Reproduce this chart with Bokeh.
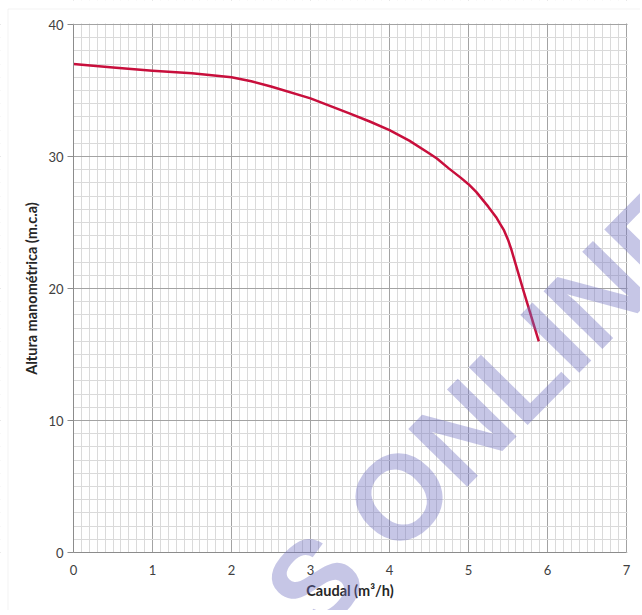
from bokeh.plotting import figure
from bokeh.models import Range1d, FixedTicker, Label, BoxAnnotation
from bokeh.embed import file_html
from bokeh.resources import INLINE

# Data: pump curve (flow m3/h vs head m.c.a)
caudal = [0, 0.5, 1, 1.5, 1.75, 2, 2.25, 2.5, 3, 3.5, 3.75, 4, 4.25, 4.5, 4.6, 4.75, 4.9,
          5, 5.1, 5.25, 5.35, 5.4, 5.45, 5.5, 5.54, 5.7, 5.89]
altura = [37.0, 36.75, 36.5, 36.3, 36.15, 36.0, 35.7, 35.3, 34.4, 33.25, 32.65, 32.0, 31.2, 30.25, 29.85, 29.1, 28.4,
          27.9, 27.3, 26.2, 25.4, 24.9, 24.4, 23.7, 23.0, 19.75, 16.0]

x_major = [0, 1, 2, 3, 4, 5, 6, 7]
y_major = [0, 10, 20, 30, 40]
x_minor = [i / 10 for i in range(0, 71)]
y_minor = list(range(0, 41))

watermark = "S ONLINE"

# canvas / plot-area geometry (pixels)
W, H = 640, 610
PX_L, PX_R, PX_B, PX_T = 73, 626, 552, 24
X0, X1, Y0, Y1 = 0, 7, 0, 40
sx = (PX_R - PX_L) / (X1 - X0)
sy = (PX_B - PX_T) / (Y1 - Y0)


def dx(px):
    return X0 + (px - PX_L) / sx


def dy(py):
    return Y0 + (PX_B - py) / sy


p = figure(width=W, height=H, output_backend="svg", toolbar_location=None,
           x_range=Range1d(dx(0), dx(W)), y_range=Range1d(dy(H), dy(0)),
           min_border=0, min_border_left=0, min_border_right=0, min_border_top=0, min_border_bottom=0)
p.outline_line_color = None

p.xaxis.ticker = FixedTicker(ticks=x_major, minor_ticks=x_minor)
p.yaxis.ticker = FixedTicker(ticks=y_major, minor_ticks=y_minor)

for g in (p.xgrid, p.ygrid):
    g.grid_line_color = "#a3a3a3"
    g.grid_line_width = 1
    g.minor_grid_line_color = "#dadada"
    g.minor_grid_line_width = 1

# mask grid lines outside of the plotting area
for kw in (dict(right=X0), dict(left=X1 + 1 / sx), dict(top=Y0), dict(bottom=Y1 + 1 / sy)):
    p.add_layout(BoxAnnotation(fill_color="white", fill_alpha=1, line_color=None, level="underlay", **kw))

# outer chart border (left and top edges visible)
p.add_layout(BoxAnnotation(left=dx(7.5), top=dy(8.5), right=dx(W + 30), bottom=dy(H + 30),
                           fill_alpha=0, line_color="#d4d4d4", line_width=1, level="underlay"))

axis_font = "Lato"
for ax in (p.xaxis, p.yaxis):
    ax.fixed_location = 0
    ax.axis_line_color = "#8c8c8c"
    ax.minor_tick_line_color = None
    ax.major_label_text_font = axis_font
    ax.major_label_text_font_size = "13px"
    ax.major_label_text_color = "#404040"
    ax.axis_label_text_font = axis_font
    ax.axis_label_text_font_size = "14.5px"
    ax.axis_label_text_font_style = "bold"
    ax.axis_label_text_color = "#262626"

p.xaxis.bounds = (X0, X1)
p.yaxis.bounds = (Y0, Y1)

p.xaxis.major_tick_line_color = None
p.xaxis.major_tick_out = 0
p.xaxis.major_tick_in = 0
p.xaxis.major_label_standoff = 8
p.xaxis.axis_label = "Caudal (m³/h)"
p.xaxis.axis_label_standoff = 4

p.yaxis.major_tick_line_color = "#8c8c8c"
p.yaxis.major_tick_out = 6
p.yaxis.major_tick_in = 0
p.yaxis.major_label_standoff = 4
p.yaxis.axis_label = "Altura manométrica (m.c.a)"
p.yaxis.axis_label_standoff = 5

p.line(caudal, altura, line_color="#c80f3c", line_width=2.5, line_join="round")

wm = Label(x=2.697, y=-4.40, text=watermark, angle=45.5, angle_units="deg",
           text_font="Liberation Sans", text_font_style="bold", text_font_size="120px",
           text_color="#7070c0", text_alpha=0.4, text_align="left", text_baseline="alphabetic",
           level="overlay")
p.add_layout(wm)

open("out.html", "w").write(file_html(p, INLINE))
